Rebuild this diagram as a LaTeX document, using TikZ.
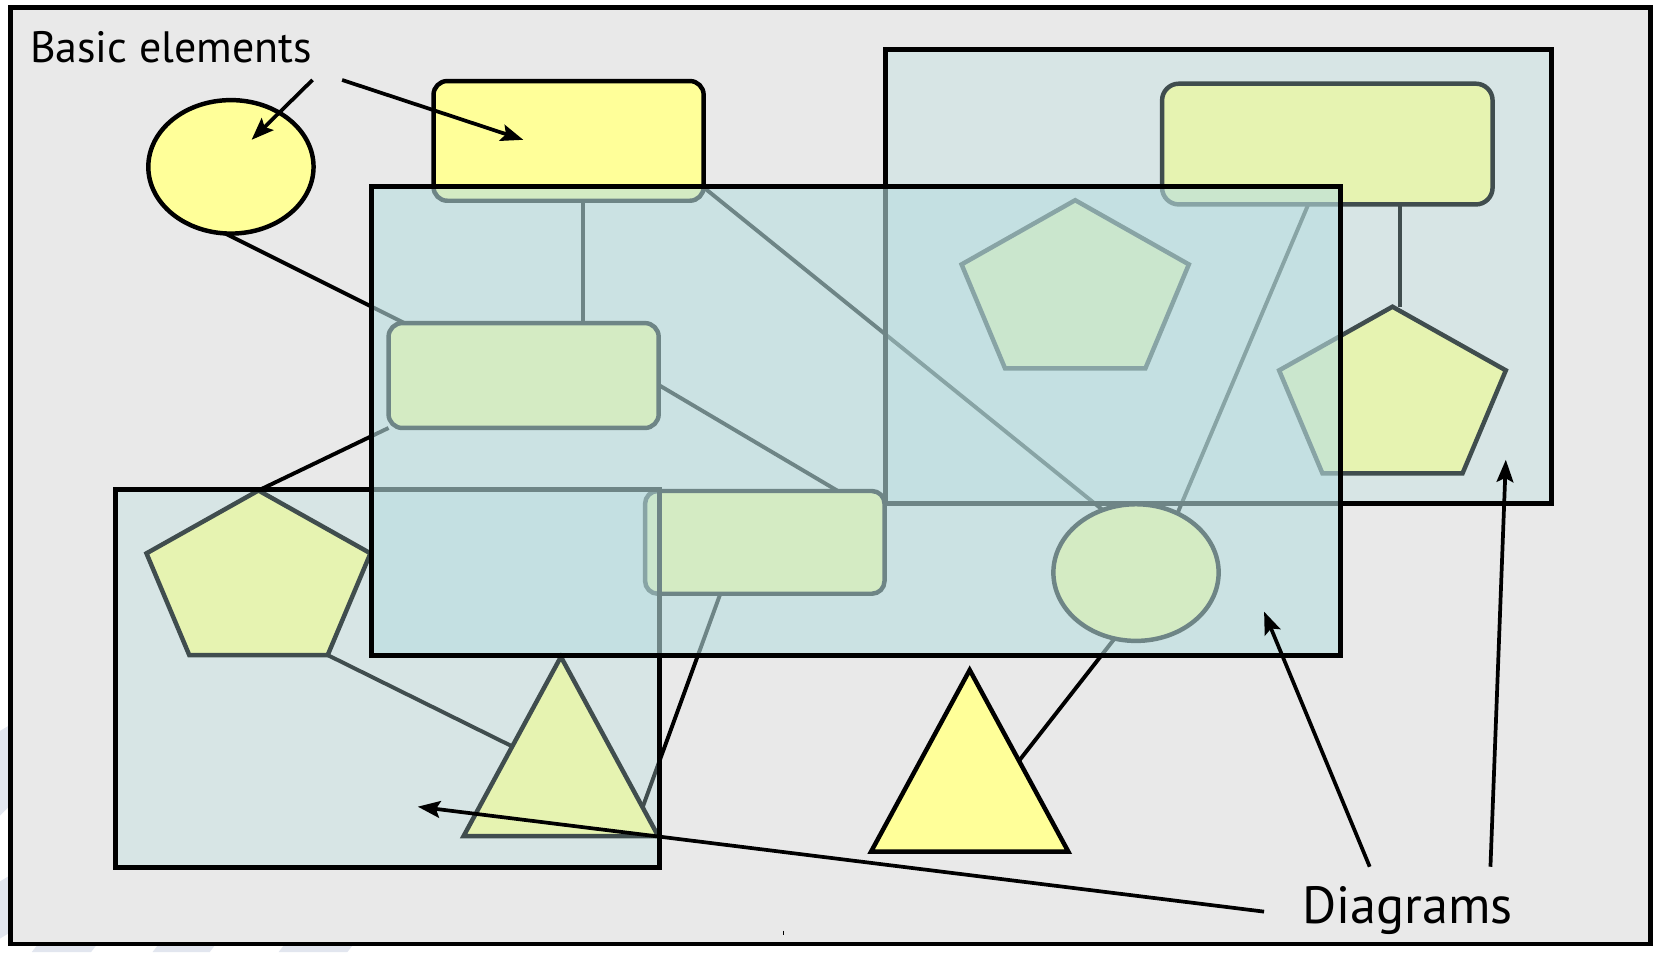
\documentclass[tikz,border=0pt]{standalone}
\usepackage{fontspec}
\setsansfont{PT Sans}
\usetikzlibrary{calc,shapes.geometric,arrows.meta}
\definecolor{panel}{HTML}{E9E9E9}
\definecolor{elem}{HTML}{FFFF99}
\definecolor{diag}{HTML}{B8DEE0}
\definecolor{band}{HTML}{E2E6EF}
\newcommand{\unitlen}{0.02cm}
\pgfdeclarelayer{panellayer}
\pgfdeclarelayer{linklayer}
\pgfsetlayers{panellayer,linklayer,main}
\begin{document}
\begin{tikzpicture}[x=0.02cm, y=-0.02cm,
  shapebase/.style={draw=black, fill=elem, line width=2.4pt, inner sep=0pt, outer sep=0pt},
  boxel/.style={shapebase, rectangle, rounded corners=7.4pt},
  ovalel/.style={shapebase, ellipse},
  pentel/.style={shapebase, regular polygon, regular polygon sides=5},
  trianel/.style={shapebase, regular polygon, regular polygon sides=3},
  link/.style={draw=black, line width=2.1pt},
  pointer/.style={draw=black, line width=2pt, -{Stealth[length=12pt, width=9pt, inset=2.2pt]}},
  diagram/.style={draw=black, line width=2.7pt, fill=diag},
  label/.style={font=\sffamily, inner sep=0pt, anchor=base west}
]
\useasboundingbox (0,0) rectangle (1568,898.7);

\begin{pgfonlayer}{panellayer}
% faint slide background stripes around the panel
\fill[band] (0,690) -- (10,684) -- (10,760) -- (0,770) -- cycle;
\fill[band] (0,832) -- (10,826) -- (10,880) -- (0,886) -- cycle;
\fill[band] (30,898.7) -- (36,891) -- (92,891) -- (86,898.7) -- cycle;
\fill[band] (144,898.7) -- (150,891) -- (204,891) -- (198,898.7) -- cycle;
\fill[band] (263,898.7) -- (269,891) -- (334,891) -- (328,898.7) -- cycle;
% panel
\draw[fill=panel, line width=2.5pt] (10,7) rectangle (1558,891);
\end{pgfonlayer}

% basic elements
\node[ovalel, minimum width=156*\unitlen, minimum height=126*\unitlen] (C) at (218,157.5) {};
\node[boxel, minimum width=255*\unitlen, minimum height=113*\unitlen] (Y) at (536.75,133) {};
\node[boxel, minimum width=255*\unitlen, minimum height=99*\unitlen] (G) at (494.3,354.5) {};
\node[boxel, rounded corners=6.8pt, minimum width=226*\unitlen, minimum height=97*\unitlen] (R2) at (722,512) {};
\node[boxel, rounded corners=9pt, minimum width=312*\unitlen, minimum height=114*\unitlen] (TRr) at (1253,136) {};
\node[ovalel, minimum width=156*\unitlen, minimum height=129*\unitlen] (E) at (1072.4,540.5) {};
\node[pentel, minimum size=175.4*\unitlen, xscale=1.286] (P1) at (1015,276.7) {};
\node[pentel, minimum size=173.9*\unitlen, xscale=1.294] (P2) at (1314.5,376.5) {};
\node[pentel, minimum size=171.8*\unitlen, xscale=1.294] (P3) at (244,548.9) {};
\node[trianel, minimum size=225.6*\unitlen, xscale=0.94] (T1) at (529.5,732.8) {};
\node[trianel, minimum size=228.6*\unitlen, xscale=0.9405] (T2) at (915.4,746.8) {};

% connectors between elements, kept beneath the shapes
\coordinate (c2s) at ($(Y.south)+(14,0)$);
\coordinate (c9s) at ($(TRr.south)+(69,0)$);
\begin{pgfonlayer}{linklayer}
\draw[link] (C.265) -- ($(G.north west)+(15,0)$);
\draw[link] (c2s) -- (c2s |- G.north);
\draw[link] (Y.-19) -- (E.118);
\draw[link] (G.-4) -- ($(R2.north)+(69,0)$);
\draw[link] (G.south west) -- (P3.corner 1);
\draw[link] (P3.corner 4) -- ($(T1.corner 1)!0.5!(T1.corner 2)$);
\draw[link] ($(R2.south)+(-42,0)$) -- ($(T1.corner 1)!0.84!(T1.corner 3)$);
\draw[link] ($(TRr.south)+(-18,0)$) -- (E.55);
\draw[link] (c9s) -- (c9s |- P2.corner 1);
\draw[link] (E.-108) -- ($(T2.corner 1)!0.5!(T2.corner 3)$);
\end{pgfonlayer}

% diagrams laid over their elements
\draw[diagram, fill opacity=0.35] (836,47) rectangle (1465,475.5);
\draw[diagram, fill opacity=0.35] (108.7,462) rectangle (623,819);
\draw[diagram, fill opacity=0.6] (351,176) rectangle (1265,618.5);

% labels and pointers
\node[label, font=\sffamily\fontsize{23.6}{28}\selectfont] (L1) at (28,59) {Basic elements};
\node[label, font=\sffamily\fontsize{28.1}{34}\selectfont] (L2) at (1229,871.7) {Diagrams};

\coordinate (a1s) at (295,75.5);
\coordinate (a2s) at (323,75.5);
\coordinate (a3s) at (1193.3,860.6);
\coordinate (a4s) at (1293,818.2);
\coordinate (a5s) at (1407,818.2);
\draw[pointer] (a1s) -- ($(C)+(19.5,-25.5)$);
\draw[pointer] (a2s) -- ($(Y)+(-42.75,-1)$);
\draw[pointer] (a3s) -- ($(T1)+(-135.1,28.7)$);
\draw[pointer] (a4s) -- ($(E)+(120.9,36.9)$);
\draw[pointer] (a5s) -- ($(P2)+(107,57.5)$);

% small stray mark near the lower edge
\draw[line width=0.6pt] (739.5,878.5) -- (739.5,883);
\end{tikzpicture}
\end{document}
